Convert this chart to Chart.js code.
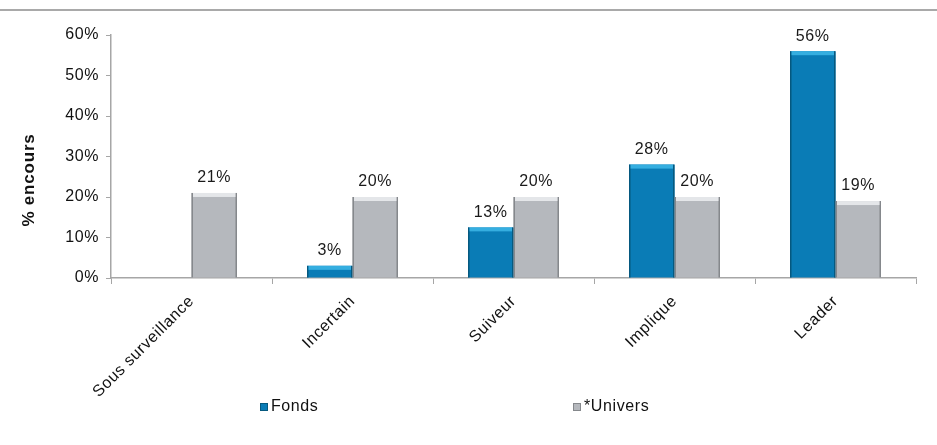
<!DOCTYPE html>
<html>
<head>
<meta charset="utf-8">
<script src="https://cdn.jsdelivr.net/npm/chart.js@4"></script>
<style>
  html, body { margin: 0; padding: 0; background: #fff; }
  #wrap { position: relative; width: 937px; height: 445px; }
  #topline { position: absolute; left: 0; top: 9px; width: 937px; height: 2px; background: #A9A9A9; }
</style>
</head>
<body>
<div id="wrap">
  <div id="topline"></div>
  <canvas id="chart" width="937" height="445"></canvas>
</div>
<script>
const categories = ['Sous surveillance', 'Incertain', 'Suiveur', 'Implique', 'Leader'];
const fonds = [null, 3, 12.5, 28, 56];
const univers = [21, 20, 20, 20, 19];
const yTicks = [0, 10, 20, 30, 40, 50, 60];

const FONT = "'Liberation Sans', Arial, sans-serif";
const SPACING = '0.6px';
const BLUE = '#0A7CB6';
const GRAY = '#B5B8BD';
const looks = [
  { top: '#35AEE0', side: '#06597F' },
  { top: '#E4E6E9', side: '#85888C' }
];

// the original text is a bit wider than plain Arial
const spacing = {
  id: 'spacing',
  beforeUpdate(chart) { chart.ctx.letterSpacing = SPACING; },
  beforeDraw(chart) { chart.ctx.letterSpacing = SPACING; }
};

// light top band + darker sides, roughly the bevel look of the original
const bevel = {
  id: 'bevel',
  afterDatasetsDraw(chart) {
    const ctx = chart.ctx;
    chart.data.datasets.forEach((ds, di) => {
      chart.getDatasetMeta(di).data.forEach((bar, i) => {
        if (ds.data[i] == null) return;
        const l = bar.x - bar.width / 2, r = bar.x + bar.width / 2;
        const t = bar.y, b = bar.base;
        ctx.save();
        ctx.fillStyle = looks[di].side;
        ctx.fillRect(l, t, 1.5, b - t);
        ctx.fillRect(r - 1.5, t, 1.5, b - t);
        ctx.fillStyle = looks[di].top;
        ctx.fillRect(l + 1.5, t, r - l - 3, Math.min(4, b - t));
        ctx.restore();
      });
    });
  }
};

const valueLabels = {
  id: 'valueLabels',
  afterDatasetsDraw(chart) {
    const ctx = chart.ctx;
    ctx.save();
    ctx.font = '16px ' + FONT;
    ctx.fillStyle = '#1a1a1a';
    ctx.textAlign = 'center';
    ctx.textBaseline = 'bottom';
    chart.data.datasets.forEach((ds, di) => {
      chart.getDatasetMeta(di).data.forEach((bar, i) => {
        const v = ds.data[i];
        if (v == null) return;
        ctx.fillText(Math.round(v) + '%', bar.x, bar.y - 7);
      });
    });
    ctx.restore();
  }
};

// y title and the widely spaced legend of the original
const extras = {
  id: 'extras',
  afterDraw(chart) {
    const ctx = chart.ctx, a = chart.chartArea;
    ctx.save();
    ctx.fillStyle = '#111';
    ctx.font = 'bold 17px ' + FONT;
    ctx.letterSpacing = '0.8px';
    ctx.textAlign = 'center';
    ctx.textBaseline = 'middle';
    ctx.translate(29, a.top + 145);
    ctx.rotate(-Math.PI / 2);
    ctx.fillText('% encours', 0, 0);
    ctx.restore();

    const xs = [a.left + 149, a.left + 462];
    const y = 407;
    ctx.save();
    ctx.font = '16px ' + FONT;
    ctx.textBaseline = 'middle';
    chart.data.datasets.forEach((ds, i) => {
      ctx.fillStyle = ds.backgroundColor;
      ctx.fillRect(xs[i], y - 4, 8, 8);
      ctx.strokeStyle = looks[i].side;
      ctx.lineWidth = 1;
      ctx.strokeRect(xs[i] + 0.5, y - 3.5, 7, 7);
      ctx.fillStyle = '#111';
      ctx.fillText(ds.label, xs[i] + 11, y);
    });
    ctx.restore();
  }
};

new Chart(document.getElementById('chart'), {
  type: 'bar',
  data: {
    labels: categories,
    datasets: [
      { label: 'Fonds', data: fonds, backgroundColor: BLUE, borderWidth: 0 },
      { label: '*Univers', data: univers, backgroundColor: GRAY, borderWidth: 0 }
    ]
  },
  options: {
    responsive: false,
    animation: false,
    categoryPercentage: 0.565,
    barPercentage: 1,
    layout: { padding: { left: 0, right: 21, top: 35, bottom: 0 } },
    plugins: {
      tooltip: { enabled: false },
      legend: { display: false }
    },
    scales: {
      x: {
        border: { color: '#A6A6A6', width: 1.5 },
        grid: { display: true, drawOnChartArea: false, offset: true, tickLength: 6, color: '#A6A6A6' },
        ticks: { font: { family: FONT, size: 16 }, color: '#111', minRotation: 45, maxRotation: 45, padding: 8 },
        afterFit: (s) => { s.height = 167; }
      },
      y: {
        min: 0,
        max: 60,
        afterBuildTicks: (s) => { s.ticks = yTicks.map(v => ({ value: v })); },
        border: { color: '#A6A6A6', width: 1.5 },
        grid: { display: true, drawOnChartArea: false, tickLength: 5, color: '#A6A6A6' },
        ticks: { font: { family: FONT, size: 16 }, color: '#111', padding: 7, callback: v => v + '%' },
        afterFit: (s) => { s.width = 111; }
      }
    }
  },
  plugins: [spacing, bevel, valueLabels, extras]
});
</script>
</body>
</html>
